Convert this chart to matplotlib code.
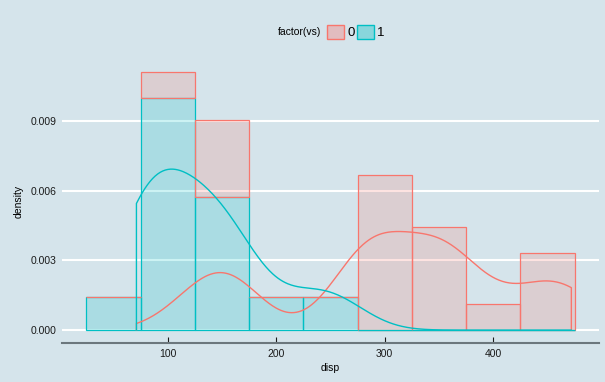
import numpy as np
import matplotlib.pyplot as plt
from matplotlib.patches import Patch

plt.rcParams['font.family'] = ['Liberation Sans', 'DejaVu Sans']

# mtcars: engine displacement split by engine shape (vs)
disp_vs0 = [160, 160, 360, 360, 275.8, 275.8, 275.8, 472, 460, 440,
            318, 304, 350, 400, 120.3, 351, 145, 301]
disp_vs1 = [108, 258, 225, 146.7, 140.8, 167.6, 167.6, 78.7, 75.7,
            71.1, 120.1, 79, 95.1, 121]
groups = ['0', '1']
bin_edges = np.arange(25, 476, 50)
y_ticks = [0.000, 0.003, 0.006, 0.009]
x_ticks = [100, 200, 300, 400]

BG = '#d5e4eb'
RED = '#F8766D'
CYAN = '#00BFC4'


def hist_density(x):
    # ggplot-style bins, closed on the right
    x = np.asarray(x)
    idx = np.digitize(x, bin_edges, right=True) - 1
    counts = np.bincount(idx, minlength=len(bin_edges) - 1)[:len(bin_edges) - 1]
    return counts / (len(x) * 50.0)


def kde(x, grid):
    # gaussian kernel with R's bw.nrd0
    x = np.asarray(x, dtype=float)
    q75, q25 = np.percentile(x, [75, 25])
    lo = min(np.std(x, ddof=1), (q75 - q25) / 1.34)
    bw = 0.9 * lo * len(x) ** -0.2
    z = (grid[:, None] - x[None, :]) / bw
    return np.exp(-0.5 * z ** 2).sum(axis=1) / (len(x) * bw * np.sqrt(2 * np.pi))


h0 = hist_density(disp_vs0)
h1 = hist_density(disp_vs1)
left = bin_edges[:-1]

all_x = np.concatenate([disp_vs0, disp_vs1])
grid = np.linspace(all_x.min(), all_x.max(), 512)
d0 = kde(disp_vs0, grid)
d1 = kde(disp_vs1, grid)

fig = plt.figure(figsize=(6.05, 3.82), dpi=100, facecolor=BG)
ax = fig.add_axes([0.1025, 0.1021, 0.8876, 0.7434])
ax.set_facecolor(BG)

# stacked histogram: vs=1 underneath, vs=0 on top
ax.bar(left, h1, width=50, align='edge', color=CYAN, alpha=0.2, zorder=2)
ax.bar(left, h0, bottom=h1, width=50, align='edge', color=RED, alpha=0.2, zorder=2)
ax.bar(left, h1, width=50, align='edge', facecolor='none', edgecolor=CYAN,
       linewidth=0.9, zorder=3)
ax.bar(left, h0, bottom=h1, width=50, align='edge', facecolor='none', edgecolor=RED,
       linewidth=0.9, zorder=3)
zero1 = h1 == 0
ax.bar(left[zero1], h1[zero1], width=50, align='edge', facecolor='none',
       edgecolor=CYAN, linewidth=0.9, zorder=3)

# density outlines (full outline, closed down to zero)
for d, c in [(d0, RED), (d1, CYAN)]:
    xs = np.concatenate([[grid[0]], grid, [grid[-1]]])
    ys = np.concatenate([[0], d, [0]])
    ax.plot(xs, ys, color=c, linewidth=1.0, zorder=4)

xr = bin_edges[-1] - bin_edges[0]
ax.set_xlim(bin_edges[0] - 0.05 * xr, bin_edges[-1] + 0.05 * xr)
ytop = (h0 + h1).max()
ax.set_ylim(-0.05 * ytop, ytop * 1.05)

ax.set_yticks(y_ticks)
ax.set_yticklabels([f'{v:.3f}' for v in y_ticks])
ax.set_xticks(x_ticks)
ax.grid(axis='y', color='white', linewidth=1.5, zorder=1)
ax.set_axisbelow(True)

for s in ['top', 'right', 'left']:
    ax.spines[s].set_visible(False)
ax.spines['bottom'].set_color('#6b777d')
ax.spines['bottom'].set_linewidth(1.5)
ax.tick_params(axis='y', length=0, pad=4, labelsize=7.5, labelcolor='#1a1a1a')
ax.tick_params(axis='x', direction='in', length=4, width=0.8, color='#1a1a1a',
               pad=4, labelsize=7.5, labelcolor='#1a1a1a')

ax.set_xlabel('disp', fontsize=7.5, labelpad=3)
ax.set_ylabel('density', fontsize=7.5, labelpad=5)

handles = [Patch(facecolor='#e2bcbf', edgecolor=RED, linewidth=1.0),
           Patch(facecolor='#88d6dc', edgecolor=CYAN, linewidth=1.0)]
fig.legend(handles, groups, loc='center left', bbox_to_anchor=(327 / 605, 1 - 32 / 382),
           ncol=2, frameon=False, fontsize=9.5, borderpad=0, borderaxespad=0,
           handlelength=1.3, handleheight=1.3, handletextpad=0.25, columnspacing=0.15)
fig.text(321 / 605, 1 - 32 / 382, 'factor(vs)', ha='right', va='center', fontsize=7.5)

fig.savefig('out.png', dpi=100, facecolor=BG)
